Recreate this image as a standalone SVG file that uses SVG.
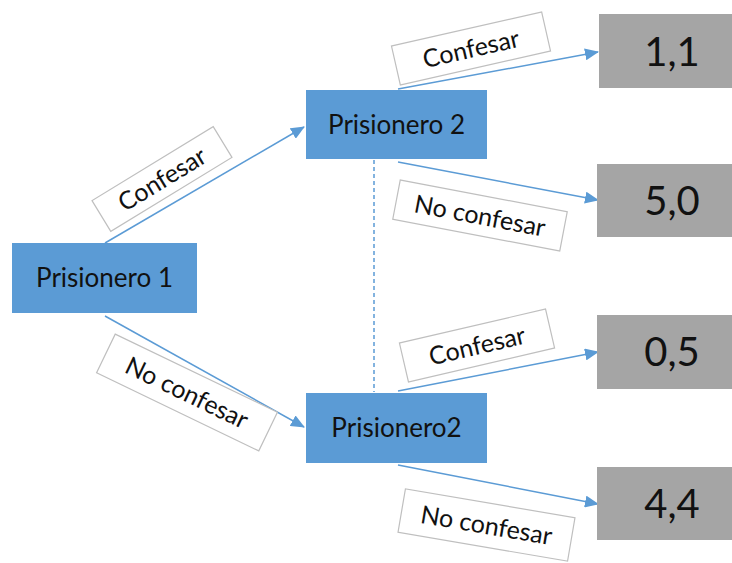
<svg xmlns="http://www.w3.org/2000/svg" width="732" height="563" viewBox="0 0 732 563">
  <style>
    .player { fill: #5B9BD5; }
    .payoff { fill: #A5A5A5; }
    .ptext { font-family: Lato, "Open Sans", "Liberation Sans", sans-serif; font-size: 26px; fill: #111; text-anchor: middle; }
    .vtext { font-family: Lato, "Open Sans", "Liberation Sans", sans-serif; font-size: 40px; fill: #111; text-anchor: middle; }
    .lbl rect { fill: #fff; stroke: #BFBFBF; stroke-width: 1.2; }
    .lbl text { font-family: Lato, "Open Sans", "Liberation Sans", sans-serif; font-size: 25px; fill: #111; text-anchor: middle; }
    .edge { stroke: #5B9BD5; stroke-width: 1.5; fill: none; marker-end: url(#arrow); }
    .info { stroke: #5B9BD5; stroke-width: 1.5; stroke-dasharray: 4 3; fill: none; }
  </style>
  <defs>
    <marker id="arrow" markerUnits="userSpaceOnUse" markerWidth="14" markerHeight="12" viewBox="0 0 14 12" refX="13" refY="6" orient="auto">
      <path d="M0,0 L14,6 L0,12 Z" fill="#5B9BD5"/>
    </marker>
  </defs>

  <rect width="732" height="563" fill="#fff"/>

  <!-- connectors -->
  <g id="connectors">
    <line class="edge" x1="105" y1="243" x2="304" y2="127"/>
    <line class="edge" x1="105" y1="316" x2="304" y2="427"/>
    <line class="edge" x1="398" y1="89" x2="598" y2="52"/>
    <line class="edge" x1="398" y1="162" x2="598" y2="200"/>
    <line class="edge" x1="398" y1="391" x2="598" y2="352"/>
    <line class="edge" x1="398" y1="465" x2="598" y2="504"/>
    <line class="info" x1="374" y1="160" x2="374" y2="392"/>
  </g>

  <!-- edge labels -->
  <g id="label-p1-confesar" class="lbl" transform="translate(162,179) rotate(-31.4)">
    <rect x="-71" y="-18" width="142" height="36"/>
    <text x="0" y="9">Confesar</text>
  </g>
  <g id="label-p1-noconfesar" class="lbl" transform="translate(187,392.5) rotate(25.7)">
    <rect x="-90" y="-21.5" width="180" height="43"/>
    <text x="0" y="9">No confesar</text>
  </g>
  <g id="label-p2a-confesar" class="lbl" transform="translate(471,48.5) rotate(-12.8)">
    <rect x="-77" y="-20" width="154" height="40"/>
    <text x="0" y="9">Confesar</text>
  </g>
  <g id="label-p2a-noconfesar" class="lbl" transform="translate(480,215.5) rotate(10.8)">
    <rect x="-85" y="-20" width="170" height="40"/>
    <text x="0" y="9">No confesar</text>
  </g>
  <g id="label-p2b-confesar" class="lbl" transform="translate(477,345.5) rotate(-13.1)">
    <rect x="-75" y="-20" width="150" height="40"/>
    <text x="0" y="9">Confesar</text>
  </g>
  <g id="label-p2b-noconfesar" class="lbl" transform="translate(486.5,525) rotate(9.7)">
    <rect x="-86" y="-22" width="172" height="44"/>
    <text x="0" y="9">No confesar</text>
  </g>

  <!-- decision nodes -->
  <g id="prisionero1">
    <rect class="player" x="12" y="243" width="185" height="70"/>
    <text class="ptext" x="104.5" y="287">Prisionero 1</text>
  </g>
  <g id="prisionero2a">
    <rect class="player" x="306" y="90" width="181" height="69"/>
    <text class="ptext" x="396.5" y="134">Prisionero 2</text>
  </g>
  <g id="prisionero2b">
    <rect class="player" x="306" y="393" width="181" height="70"/>
    <text class="ptext" x="396.5" y="437">Prisionero2</text>
  </g>

  <!-- payoffs -->
  <g id="payoff-1-1">
    <rect class="payoff" x="599" y="14" width="133" height="74"/>
    <text class="vtext" x="672" y="66">1,1</text>
  </g>
  <g id="payoff-5-0">
    <rect class="payoff" x="597" y="164" width="135" height="73"/>
    <text class="vtext" x="672" y="215">5,0</text>
  </g>
  <g id="payoff-0-5">
    <rect class="payoff" x="597" y="315" width="135" height="74"/>
    <text class="vtext" x="672" y="366">0,5</text>
  </g>
  <g id="payoff-4-4">
    <rect class="payoff" x="597" y="467" width="135" height="73"/>
    <text class="vtext" x="672" y="518">4,4</text>
  </g>
</svg>
